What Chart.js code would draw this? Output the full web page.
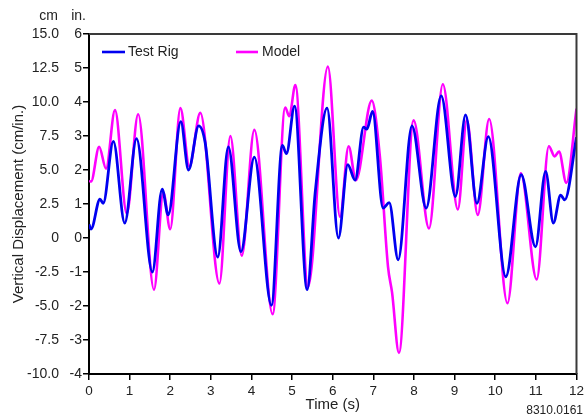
<!DOCTYPE html>
<html><head><meta charset="utf-8">
<script src="https://cdn.jsdelivr.net/npm/chart.js@4.4.0/dist/chart.umd.min.js"></script>
<style>html,body{margin:0;padding:0;background:#fff;overflow:hidden}#wrap{width:587px;height:419px;position:relative}</style>
</head><body><div id="wrap"><canvas id="c" width="587" height="419"></canvas></div>
<script>
// Test Rig series (time in s, displacement in cm)
const rigTime = [0, 0.05, 0.27, 0.35, 0.60, 0.88, 1.17, 1.56, 1.80, 1.95, 2.26, 2.45, 2.70, 2.86, 3.17, 3.43, 3.74, 4.07, 4.49, 4.76, 4.86, 5.06, 5.37, 5.57, 5.86, 6.14, 6.37, 6.55, 6.76, 6.84, 6.98, 7.24, 7.39, 7.61, 7.95, 8.30, 8.67, 9.02, 9.27, 9.55, 9.83, 10.26, 10.64, 10.99, 11.24, 11.43, 11.61, 11.71, 12.0];
const rigDisp = [1.0, 0.65, 2.85, 2.55, 7.1, 1.1, 7.3, -2.5, 3.6, 1.7, 8.55, 5.0, 8.25, 7.0, -1.4, 6.7, -1.0, 5.95, -4.95, 6.8, 6.2, 9.7, -3.8, 3.4, 9.55, 0.0, 5.4, 4.25, 8.15, 8.0, 9.3, 2.2, 2.6, -1.6, 8.25, 2.2, 10.45, 3.05, 9.05, 2.55, 7.45, -2.85, 4.65, -0.65, 4.9, 1.1, 3.15, 2.8, 7.4];
// Model series
const modelTime = [0, 0.05, 0.25, 0.42, 0.64, 0.93, 1.21, 1.60, 1.83, 2.0, 2.25, 2.47, 2.74, 3.21, 3.48, 3.76, 4.07, 4.52, 4.83, 4.93, 5.08, 5.39, 5.88, 6.18, 6.39, 6.57, 6.96, 7.16, 7.36, 7.46, 7.63, 7.99, 8.37, 8.71, 9.08, 9.30, 9.57, 9.85, 10.30, 10.63, 11.02, 11.32, 11.46, 11.57, 11.75, 12.0];
const modelDisp = [4.2, 4.15, 6.7, 5.1, 9.4, 1.8, 9.1, -3.8, 3.35, 0.65, 9.55, 5.25, 9.2, -3.35, 7.5, -1.3, 7.95, -5.6, 9.6, 8.95, 11.25, -3.6, 12.6, 1.55, 6.75, 4.25, 10.1, 6.0, -2.1, -4.0, -8.45, 8.65, 0.7, 11.3, 2.1, 8.7, 1.7, 8.75, -4.8, 4.75, -3.05, 6.75, 6.0, 6.35, 4.05, 9.5];
const seriesNames = ['Test Rig', 'Model'];
const cmTickLabels = ['-10.0', '-7.5', '-5.0', '-2.5', '0', '2.5', '5.0', '7.5', '10.0', '12.5', '15.0'];
const inTickLabels = ['-4', '-3', '-2', '-1', '0', '1', '2', '3', '4', '5', '6'];
const unitHeaders = ['cm', 'in.'];
const figureId = '8310.0161';

const FONT = "'Liberation Sans', Arial, sans-serif";
const colors = ['#0000f0', '#ff00ff'];
const toPts = (ts, vs) => ts.map((t, i) => ({x: t, y: vs[i]}));
const tickIdx = v => Math.round((v + 10) / 2.5);

const extras = {
  id: 'extras',
  afterDraw(chart) {
    const ctx = chart.ctx, a = chart.chartArea;
    ctx.save();
    // top and right frame
    ctx.strokeStyle = '#3a3a3a';
    ctx.lineWidth = 2;
    ctx.beginPath();
    ctx.moveTo(a.left, a.top); ctx.lineTo(a.right, a.top); ctx.lineTo(a.right, a.bottom);
    ctx.stroke();
    // unit headers
    ctx.fillStyle = '#222';
    ctx.font = '14px ' + FONT;
    ctx.textAlign = 'right';
    ctx.textBaseline = 'alphabetic';
    ctx.fillText(unitHeaders[0], 58, 20);
    ctx.fillText(unitHeaders[1], 86, 20);
    // legend
    const leg = [[102, 125, 128], [236, 258, 262]];
    ctx.textAlign = 'left';
    ctx.textBaseline = 'middle';
    leg.forEach((p, i) => {
      ctx.strokeStyle = colors[i];
      ctx.lineWidth = 2.6;
      ctx.beginPath(); ctx.moveTo(p[0], 52); ctx.lineTo(p[1], 52); ctx.stroke();
      ctx.fillStyle = '#222';
      ctx.fillText(seriesNames[i], p[2], 52);
    });
    // figure id
    ctx.font = '12px ' + FONT;
    ctx.textAlign = 'right';
    ctx.textBaseline = 'alphabetic';
    ctx.fillText(figureId, 583, 414);
    ctx.restore();
  }
};

new Chart(document.getElementById('c'), {
  type: 'line',
  data: {
    datasets: [
      {label: seriesNames[0], data: toPts(rigTime, rigDisp), borderColor: colors[0], borderWidth: 2.8, pointRadius: 0, cubicInterpolationMode: 'monotone', yAxisID: 'yIn', fill: false},
      {label: seriesNames[1], data: toPts(modelTime, modelDisp), borderColor: colors[1], borderWidth: 2.6, pointRadius: 0, cubicInterpolationMode: 'monotone', yAxisID: 'yIn', fill: false}
    ]
  },
  options: {
    responsive: false,
    devicePixelRatio: 1,
    animation: false,
    layout: {padding: {top: 34, right: 9, left: 0, bottom: 0}},
    plugins: {legend: {display: false}, tooltip: {enabled: false}},
    scales: {
      x: {
        type: 'linear', min: 0, max: 12,
        ticks: {stepSize: 1, color: '#222', font: {size: 13.5, family: FONT}, padding: 3, maxRotation: 0},
        grid: {drawOnChartArea: false, drawTicks: true, tickLength: 6, color: '#000', lineWidth: 1.5},
        border: {color: '#000', width: 2},
        title: {display: true, text: 'Time (s)', color: '#222', font: {size: 15, family: FONT}, padding: {top: 0, bottom: 5}},
        afterFit(s) { s.height = 45; }
      },
      yIn: {
        type: 'linear', position: 'left', weight: 0, min: -10, max: 15,
        ticks: {stepSize: 2.5, color: '#222', font: {size: 14, family: FONT}, padding: 1, callback: v => inTickLabels[tickIdx(v)]},
        grid: {drawOnChartArea: false, drawTicks: true, tickLength: 6, color: '#000', lineWidth: 1.5},
        border: {color: '#000', width: 2},
        afterFit(s) { s.width = 27; }
      },
      yCm: {
        type: 'linear', position: 'left', weight: 1, min: -10, max: 15,
        ticks: {stepSize: 2.5, color: '#222', font: {size: 14, family: FONT}, padding: 3, callback: v => cmTickLabels[tickIdx(v)]},
        grid: {display: false, drawTicks: false, tickLength: 0},
        border: {display: false},
        title: {display: true, text: 'Vertical Displacement (cm/in.)', color: '#222', font: {size: 15, family: FONT}, padding: {top: 10, bottom: 0}},
        afterFit(s) { s.width = 62; }
      }
    }
  },
  plugins: [extras]
});
</script>
</body></html>
